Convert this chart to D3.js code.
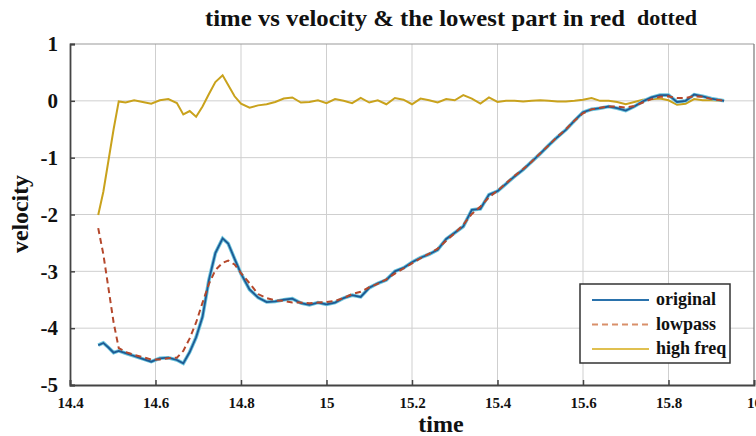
<!DOCTYPE html>
<html>
<head>
<meta charset="utf-8">
<script src="https://d3js.org/d3.v7.min.js"></script>
<style>
  body { margin: 0; background: #fff; }
  svg text { font-family: "Liberation Serif", "DejaVu Serif", serif; font-weight: bold; fill: #111; }
</style>
</head>
<body>
<svg id="chart" width="756" height="436"></svg>
<script>
// time stamps (s)
var time = [14.466,14.478,14.490,14.502,14.514,14.53,14.55,14.57,14.59,14.61,14.63,14.65,14.665,14.68,14.695,14.71,14.725,14.74,14.757,14.77,14.785,14.80,14.82,14.84,14.86,14.88,14.90,14.92,14.94,14.96,14.98,15.00,15.02,15.04,15.06,15.08,15.10,15.12,15.14,15.16,15.18,15.20,15.22,15.24,15.26,15.28,15.30,15.32,15.34,15.36,15.38,15.40,15.42,15.44,15.46,15.48,15.50,15.52,15.54,15.56,15.58,15.60,15.62,15.64,15.66,15.68,15.70,15.72,15.74,15.76,15.78,15.80,15.82,15.84,15.86,15.88,15.90,15.93]
var original = [-4.30,-4.26,-4.34,-4.43,-4.40,-4.44,-4.49,-4.54,-4.59,-4.53,-4.52,-4.56,-4.62,-4.42,-4.16,-3.80,-3.15,-2.68,-2.42,-2.51,-2.78,-3.04,-3.32,-3.46,-3.54,-3.53,-3.50,-3.48,-3.56,-3.59,-3.55,-3.58,-3.55,-3.47,-3.42,-3.45,-3.29,-3.21,-3.15,-3.00,-2.94,-2.84,-2.76,-2.70,-2.62,-2.43,-2.32,-2.21,-1.92,-1.90,-1.65,-1.59,-1.46,-1.33,-1.21,-1.07,-0.93,-0.78,-0.64,-0.51,-0.35,-0.20,-0.15,-0.13,-0.10,-0.13,-0.17,-0.10,-0.01,0.06,0.10,0.10,-0.02,0.00,0.11,0.08,0.04,0.00]
var lowpass = [-2.24,-2.70,-3.30,-3.90,-4.35,-4.42,-4.47,-4.51,-4.55,-4.55,-4.53,-4.52,-4.40,-4.18,-3.90,-3.55,-3.22,-2.98,-2.85,-2.81,-2.88,-3.03,-3.21,-3.40,-3.47,-3.51,-3.52,-3.55,-3.55,-3.56,-3.55,-3.54,-3.52,-3.47,-3.40,-3.36,-3.28,-3.22,-3.14,-3.04,-2.95,-2.86,-2.77,-2.69,-2.60,-2.46,-2.33,-2.18,-1.99,-1.86,-1.70,-1.58,-1.45,-1.32,-1.20,-1.07,-0.92,-0.78,-0.63,-0.50,-0.35,-0.22,-0.15,-0.12,-0.10,-0.10,-0.12,-0.09,-0.03,0.03,0.07,0.08,0.05,0.05,0.08,0.07,0.03,0.00]
var highFreq = [-2.01,-1.60,-1.05,-0.50,-0.01,-0.03,0.01,-0.02,-0.05,0.01,0.03,-0.04,-0.24,-0.18,-0.28,-0.10,0.12,0.33,0.45,0.28,0.08,-0.05,-0.12,-0.08,-0.06,-0.02,0.04,0.06,-0.03,-0.02,0.01,-0.04,0.03,0.00,-0.04,0.05,-0.03,0.01,-0.06,0.05,0.02,-0.06,0.04,0.01,-0.03,0.03,0.01,0.10,0.04,-0.05,0.06,-0.02,0.00,0.00,-0.01,0.00,0.01,0.00,-0.01,-0.01,0.00,0.02,0.05,0.00,0.00,-0.02,-0.06,-0.02,0.02,0.03,0.04,0.01,-0.07,-0.05,0.03,0.01,0.01,0.00]
var xTicks = [14.4,14.6,14.8,15,15.2,15.4,15.6,15.8,16]
var yTicks = [1,0,-1,-2,-3,-4,-5]
var seriesNames = ["original","lowpass","high freq"]

var svg = d3.select("#chart")
var mL = 70, mR = 754, mT = 44, mB = 385
var serif = '"Liberation Serif", "DejaVu Serif", serif'

var x = d3.scaleLinear().domain([14.4,16]).range([mL,mR])
var y = d3.scaleLinear().domain([-5,1]).range([mB,mT])

// grid
svg.append("g").selectAll("line").data(xTicks.slice(1,-1)).enter().append("line")
  .attr("x1",d=>x(d)).attr("x2",d=>x(d)).attr("y1",mT).attr("y2",mB)
  .attr("stroke","#cfcfcf").attr("stroke-width",1)
svg.append("g").selectAll("line").data(yTicks.slice(1,-1)).enter().append("line")
  .attr("y1",d=>y(d)).attr("y2",d=>y(d)).attr("x1",mL).attr("x2",mR)
  .attr("stroke","#cfcfcf").attr("stroke-width",1)

// box
svg.append("line").attr("x1",mL).attr("x2",mR).attr("y1",mT).attr("y2",mT)
  .attr("stroke","#999").attr("stroke-width",1.2)
svg.append("line").attr("x1",mR).attr("x2",mR).attr("y1",mT).attr("y2",mB)
  .attr("stroke","#777").attr("stroke-width",1.2)

// axes (plain hyphen minus like the original)
var fmt = d => String(d)
var xAxis = svg.append("g").attr("transform","translate(0,"+mB+")")
  .call(d3.axisBottom(x).tickValues(xTicks).tickSize(-5).tickPadding(12).tickFormat(fmt))
xAxis.select(".domain").attr("stroke","#444").attr("stroke-width",1.8)
xAxis.selectAll(".tick line").attr("stroke","#444").attr("stroke-width",1.5)
xAxis.selectAll("text").style("font-size","15px").style("font-family",serif).attr("fill","#111")

var yAxis = svg.append("g").attr("transform","translate("+mL+",0)")
  .call(d3.axisLeft(y).tickValues(yTicks).tickSize(-5).tickPadding(12).tickFormat(fmt))
yAxis.select(".domain").attr("stroke","#444").attr("stroke-width",1.8)
yAxis.selectAll(".tick line").attr("stroke","#444").attr("stroke-width",1.5)
yAxis.selectAll("text").style("font-size","21px").style("font-family",serif).attr("fill","#111")

// lines
var line = function(vals){
  return d3.line().x((d,i)=>x(time[i])).y(d=>y(d))(vals)
}
svg.append("path").attr("d",line(highFreq)).attr("fill","none")
  .attr("stroke","#c9a21c").attr("stroke-width",2)
svg.append("path").attr("d",line(original)).attr("fill","none")
  .attr("stroke","#6cc4dc").attr("stroke-width",3.6)
svg.append("path").attr("d",line(original)).attr("fill","none")
  .attr("stroke","#1d5a94").attr("stroke-width",1.8)
svg.append("path").attr("d",line(lowpass)).attr("fill","none")
  .attr("stroke","#b5482c").attr("stroke-width",2).attr("stroke-dasharray","6,4")

// titles
svg.append("text").attr("x",205).attr("y",26)
  .attr("textLength",420).attr("lengthAdjust","spacingAndGlyphs")
  .style("font-size","23px").text("time vs velocity & the lowest part in red")
svg.append("text").attr("x",637).attr("y",25)
  .attr("textLength",60).attr("lengthAdjust","spacingAndGlyphs")
  .style("font-size","21px").text("dotted")
svg.append("text").attr("x",441).attr("y",432).attr("text-anchor","middle")
  .style("font-size","24px").text("time")
svg.append("text").attr("transform","translate(28,214) rotate(-90)").attr("text-anchor","middle")
  .attr("textLength",78).attr("lengthAdjust","spacingAndGlyphs")
  .style("font-size","23px").text("velocity")

// legend
var lg = svg.append("g")
lg.append("rect").attr("x",580).attr("y",284).attr("width",150).attr("height",79)
  .attr("fill","#fff").attr("stroke","#333").attr("stroke-width",1.5)
var legColors = ["#2a72ac","#d9906a","#e0c050"]
var legDash = [null,"6,4",null]
seriesNames.forEach(function(n,i){
  var ly = 300 + i*24.5
  lg.append("line").attr("x1",592).attr("x2",649).attr("y1",ly).attr("y2",ly)
    .attr("stroke",legColors[i]).attr("stroke-width",2).attr("stroke-dasharray",legDash[i])
  lg.append("text").attr("x",656).attr("y",ly+5).style("font-size","18px").text(n)
})
</script>
</body>
</html>
